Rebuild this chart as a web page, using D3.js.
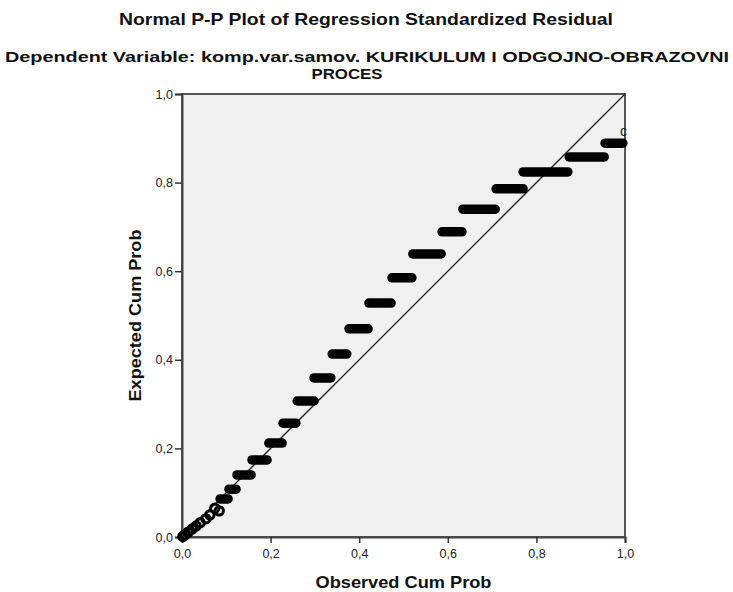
<!DOCTYPE html>
<html>
<head>
<meta charset="utf-8">
<script src="https://cdn.jsdelivr.net/npm/d3@7/dist/d3.min.js"></script>
<style>
  html, body { margin: 0; padding: 0; background: #fff; }
  svg text { font-family: "Liberation Sans", Arial, sans-serif; }
</style>
</head>
<body>
<svg id="chart" width="733" height="592"></svg>
<script>
// Tied residuals: runs of cases sharing one expected cumulative probability
const stepObsStart = [0.158, 0.124, 0.106, 0.086, 0.196, 0.228, 0.260, 0.298, 0.339, 0.377, 0.422, 0.474, 0.521, 0.587, 0.634, 0.709, 0.770, 0.874, 0.955];
const stepObsEnd   = [0.192, 0.156, 0.122, 0.104, 0.226, 0.257, 0.298, 0.336, 0.372, 0.420, 0.472, 0.519, 0.585, 0.632, 0.707, 0.770, 0.871, 0.953, 0.995];
const stepExpected = [0.174, 0.140, 0.108, 0.086, 0.212, 0.257, 0.307, 0.359, 0.413, 0.470, 0.528, 0.585, 0.639, 0.689, 0.740, 0.786, 0.824, 0.858, 0.889];

// Single cases in the lower tail
const pointObserved = [0.002, 0.007, 0.014, 0.023, 0.032, 0.041, 0.054, 0.063, 0.074, 0.084];
const pointExpected = [0.001, 0.005, 0.011, 0.018, 0.025, 0.032, 0.041, 0.050, 0.065, 0.059];

const axisTicks = [0, 0.2, 0.4, 0.6, 0.8, 1.0];
const tickLabel = d => d.toFixed(1).replace(".", ",");

const svg = d3.select("#chart");
const x = d3.scaleLinear().domain([0, 1]).range([182, 625]);
const y = d3.scaleLinear().domain([0, 1]).range([537, 94]);

// Bold heading text stretched to its laid-out width
function heading(px, py, width, txt, rotate, size) {
  const t = svg.append("text")
    .attr("text-anchor", "middle")
    .attr("font-size", size || 16.5).attr("font-weight", "bold").attr("fill", "#111")
    .attr("textLength", width).attr("lengthAdjust", "spacingAndGlyphs")
    .text(txt);
  if (rotate) t.attr("transform", `translate(${px},${py}) rotate(-90)`);
  else t.attr("x", px).attr("y", py);
  return t;
}

// Titles
heading(366, 25, 494, "Normal P-P Plot of Regression Standardized Residual");
heading(367, 62, 724, "Dependent Variable: komp.var.samov. KURIKULUM I ODGOJNO-OBRAZOVNI", false, 15.5);
heading(347, 79, 71, "PROCES", false, 15.5);

// Plot background and frame
svg.append("rect")
  .attr("x", x(0)).attr("y", y(1))
  .attr("width", x(1) - x(0)).attr("height", y(0) - y(1))
  .attr("fill", "#f0f0f0").attr("stroke", "#555").attr("stroke-width", 2);

// Axes
const yAxis = svg.append("g").attr("transform", `translate(${x(0)},0)`)
  .call(d3.axisLeft(y).tickValues(axisTicks).tickFormat(tickLabel).tickSize(7).tickPadding(2));
const xAxis = svg.append("g").attr("transform", `translate(0,${y(0)})`)
  .call(d3.axisBottom(x).tickValues(axisTicks).tickFormat(tickLabel).tickSize(6).tickPadding(6));
[xAxis, yAxis].forEach(g => {
  g.select(".domain").attr("stroke", "#444").attr("stroke-width", 2);
  g.selectAll(".tick line").attr("stroke", "#333").attr("stroke-width", 1.5);
  g.selectAll(".tick text").attr("font-size", 12.5).attr("fill", "#222")
    .attr("font-family", "Liberation Sans, Arial, sans-serif");
});

// Axis titles
heading((x(0) + x(1)) / 2, 588, 176, "Observed Cum Prob");
heading(141, (y(0) + y(1)) / 2, 172, "Expected Cum Prob", true);

// Reference diagonal
svg.append("line")
  .attr("x1", x(0)).attr("y1", y(0)).attr("x2", x(1)).attr("y2", y(1))
  .attr("stroke", "#222").attr("stroke-width", 1.3);

// Runs of tied cases
const steps = stepExpected.map((e, i) => ({ x0: stepObsStart[i], x1: stepObsEnd[i], e }));
svg.append("g").selectAll("line").data(steps).join("line")
  .attr("x1", d => x(d.x0)).attr("x2", d => x(d.x1))
  .attr("y1", d => y(d.e)).attr("y2", d => y(d.e))
  .attr("stroke", "#000").attr("stroke-width", 9.5).attr("stroke-linecap", "round");

// Individual cases
const pts = pointObserved.map((o, i) => ({ o, e: pointExpected[i] }));
svg.append("g").selectAll("circle").data(pts).join("circle")
  .attr("cx", d => x(d.o)).attr("cy", d => y(d.e)).attr("r", 4.2)
  .attr("fill", "none").attr("stroke", "#000").attr("stroke-width", 3);

// Case label near the upper end
svg.append("text").attr("x", 620).attr("y", 136)
  .attr("font-size", 14).attr("fill", "#222").text("c");
</script>
</body>
</html>
